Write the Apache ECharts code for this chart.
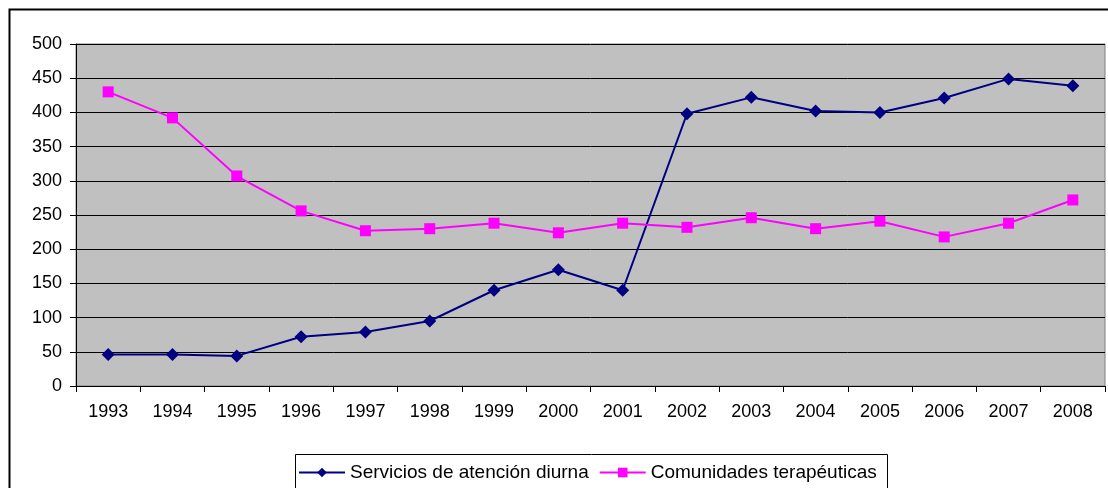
<!DOCTYPE html>
<html>
<head>
<meta charset="utf-8">
<script src="https://cdn.jsdelivr.net/npm/echarts@6/dist/echarts.min.js"></script>
<style>
  html, body { margin: 0; padding: 0; background: #fff; }
  #chart { width: 1108px; height: 488px; }
</style>
</head>
<body>
<div id="chart"></div>
<script>
var years = ['1993', '1994', '1995', '1996', '1997', '1998', '1999', '2000',
             '2001', '2002', '2003', '2004', '2005', '2006', '2007', '2008'];
var servicios = [46, 46, 44, 72, 79, 95, 140, 170, 140, 398, 422, 402, 400, 421, 449, 439];
var comunidades = [430, 392, 307, 256, 227, 230, 238, 224, 238, 232, 246, 230, 241, 218, 238, 272];

var myChart = echarts.init(document.getElementById('chart'));
var font = 'Liberation Sans, Arial, sans-serif';

var option = {
  animation: false,
  textStyle: { fontFamily: font },
  graphic: [
    {
      type: 'rect',
      shape: { x: 9.5, y: 9.5, width: 1110, height: 490 },
      style: { fill: 'none', stroke: '#000', lineWidth: 2 },
      silent: true
    },
    {
      type: 'rect',
      shape: { x: 295.5, y: 454.5, width: 592, height: 50 },
      style: { fill: '#fff', stroke: '#000', lineWidth: 1 },
      z: 10,
      silent: true
    }
  ],
  legend: {
    top: 458,
    left: 293,
    itemGap: 10,
    itemWidth: 46,
    itemHeight: 12,
    z: 20,
    textStyle: { fontSize: 19, color: '#000', fontFamily: font },
    data: ['Servicios de atención diurna', 'Comunidades terapéuticas']
  },
  grid: {
    left: 76,
    right: 3,
    top: 44,
    bottom: 102,
    show: true,
    backgroundColor: '#C0C0C0',
    borderColor: '#808080',
    borderWidth: 1
  },
  xAxis: {
    type: 'category',
    data: years,
    boundaryGap: true,
    axisLine: { lineStyle: { color: '#000', width: 1 } },
    axisTick: { show: true, alignWithLabel: false, length: 6, lineStyle: { color: '#000' } },
    axisLabel: { color: '#000', fontSize: 18, margin: 17, fontFamily: font }
  },
  yAxis: {
    type: 'value',
    min: 0,
    max: 500,
    interval: 50,
    axisLine: { show: true, lineStyle: { color: '#000' } },
    axisTick: { show: true, length: 6, lineStyle: { color: '#000' } },
    axisLabel: { color: '#000', fontSize: 18, margin: 14, fontFamily: font },
    splitLine: { show: true, lineStyle: { color: '#000', width: 1 } }
  },
  series: [
    {
      name: 'Servicios de atención diurna',
      type: 'line',
      data: servicios,
      symbol: 'diamond',
      symbolSize: 13,
      color: '#000080',
      lineStyle: { color: '#000080', width: 2 },
      itemStyle: { color: '#000080' }
    },
    {
      name: 'Comunidades terapéuticas',
      type: 'line',
      data: comunidades,
      symbol: 'rect',
      symbolSize: 11,
      color: '#FF00FF',
      lineStyle: { color: '#FF00FF', width: 2 },
      itemStyle: { color: '#FF00FF' }
    }
  ]
};

myChart.setOption(option);
window.addEventListener('resize', function () {
  myChart.resize();
});
</script>
</body>
</html>
